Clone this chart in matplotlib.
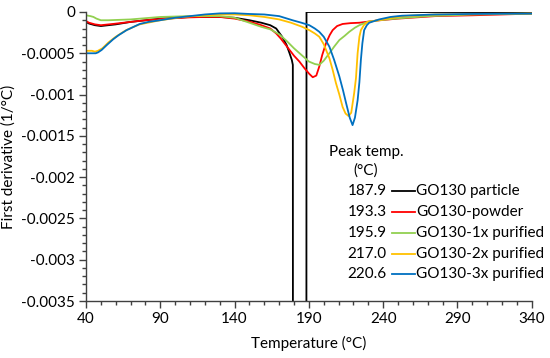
import matplotlib
matplotlib.use('Agg')
import matplotlib.pyplot as plt
from matplotlib.ticker import MultipleLocator

plt.rcParams['font.family'] = ['Lato', 'DejaVu Sans']
plt.rcParams['axes.unicode_minus'] = False

# Temperature (°C) and first derivative (1/°C)
temp_particle = [40, 42, 46, 50, 60, 70, 80, 90, 100, 110, 120, 130, 140, 150, 158, 164, 168,
                 172, 175, 177, 178.5, 179.2, 179.3, 188.3, 188.4, 200, 340]
deriv_particle = [-0.00012, -0.00014, -0.00016, -0.00017, -0.00015, -0.00012, -0.0001, -0.00008,
                  -0.00007, -0.00006, -0.00006, -0.00006, -0.00007, -0.0001, -0.00013, -0.00016,
                  -0.0002, -0.0003, -0.0004, -0.0005, -0.00058, -0.00064, -0.006, -0.006, 0, 0, 0]

temp_powder = [40, 42, 46, 50, 58, 70, 80, 90, 100, 110, 120, 130, 140, 150, 158, 164, 168, 171,
               174, 177, 180, 183.6, 187, 190.3, 192.6, 195, 197, 199, 201.5, 204, 206, 209,
               212.7, 218, 224, 235, 250, 275, 300, 340]
deriv_powder = [-0.00011, -0.00013, -0.00015, -0.00016, -0.000145, -0.00012, -0.0001, -0.000085,
                -0.000075, -0.000065, -0.00006, -0.00006, -0.00008, -0.000117, -0.00016, -0.0002,
                -0.00026, -0.00032, -0.00039, -0.00046, -0.00053, -0.0006, -0.00068, -0.00075,
                -0.00079, -0.00077, -0.00066, -0.00052, -0.00038, -0.00028, -0.00022, -0.00017,
                -0.000145, -0.000135, -0.00013, -0.000105, -0.00008, -0.00005, -0.00004, -0.00002]

temp_1x = [40, 43, 45, 47, 50, 55, 70, 90, 110, 130, 140, 150, 158, 164, 170, 175, 180, 185,
           190, 194, 197, 200, 203.8, 207, 210.5, 214, 217.2, 221, 224, 229.5, 237, 250, 270,
           300, 340]
deriv_1x = [-0.00004, -0.00005, -0.00006, -0.00008, -0.0001, -0.0001, -0.00009, -0.00006,
            -0.00005, -0.00005, -0.00007, -0.00013, -0.00018, -0.00021, -0.00027, -0.00035,
            -0.00044, -0.00052, -0.0006, -0.00063, -0.00064, -0.00059, -0.0005, -0.00042,
            -0.00034, -0.00029, -0.00024, -0.00019, -0.00016, -0.00012, -0.0001, -0.000077,
            -0.00005, -0.00003, -0.00002]

temp_2x = [40, 44, 46, 48, 51, 55, 60, 67, 76, 90, 105, 120, 130, 140, 150, 160, 170, 178,
           185.6, 190.3, 194, 197, 200, 203.8, 206, 208.2, 210.5, 212.7, 214.7, 216.7, 218.5,
           220.5, 221.7, 222.8, 224, 225, 227, 229.5, 237, 253, 275, 298, 340]
deriv_2x = [-0.00047, -0.00047, -0.00048, -0.00047, -0.00044, -0.00037, -0.0003, -0.00022,
            -0.00015, -0.0001, -0.00006, -0.00004, -0.00003, -0.00003, -0.00004, -0.00006,
            -0.00009, -0.00013, -0.00018, -0.00022, -0.00026, -0.0003, -0.00039, -0.00056,
            -0.0007, -0.00086, -0.001, -0.00115, -0.00123, -0.00126, -0.00122, -0.00098,
            -0.0008, -0.0005, -0.0003, -0.00022, -0.00016, -0.00012, -0.0001, -0.00005,
            -0.00003, -0.000025, -0.00002]

temp_3x = [40, 44, 46.5, 48, 50.5, 54, 58.3, 62, 67.3, 72, 76.2, 82, 89.7, 100, 110, 120, 130,
           140, 150, 160, 170, 179, 185, 190.3, 194, 197, 200, 203.8, 207, 210.5, 213, 215,
           217.5, 219.4, 221, 222.8, 224, 225, 226, 227.2, 229, 230.6, 237.3, 245, 252.7, 275,
           297.7, 340]
deriv_3x = [-0.0005, -0.0005, -0.0005, -0.00049, -0.00046, -0.0004, -0.00033, -0.00028,
            -0.00022, -0.00018, -0.000145, -0.00012, -0.0001, -0.00007, -0.00005, -0.00003,
            -0.000017, -0.000015, -0.000024, -0.00003, -0.00005, -0.0001, -0.00013, -0.00016,
            -0.0002, -0.00024, -0.0003, -0.00042, -0.00058, -0.00078, -0.00095, -0.0011,
            -0.00128, -0.00137, -0.00128, -0.00107, -0.00085, -0.00058, -0.00038, -0.00022,
            -0.00016, -0.00013, -0.00009, -0.00006, -0.000045, -0.00003, -0.000024, -0.00002]

names = ['GO130 particle', 'GO130-powder', 'GO130-1x purified', 'GO130-2x purified', 'GO130-3x purified']
peak_temps = ['187.9', '193.3', '195.9', '217.0', '220.6']
colors = ['#000000', '#FF0000', '#92D050', '#FFC000', '#0070C0']
series = [(temp_particle, deriv_particle), (temp_powder, deriv_powder), (temp_1x, deriv_1x),
          (temp_2x, deriv_2x), (temp_3x, deriv_3x)]

x_ticks = [40, 90, 140, 190, 240, 290, 340]
y_ticks = [0, -0.0005, -0.001, -0.0015, -0.002, -0.0025, -0.003, -0.0035]
y_tick_labels = ['0', '-0.0005', '-0.001', '-0.0015', '-0.002', '-0.0025', '-0.003', '-0.0035']

fig = plt.figure(figsize=(5.5, 3.58), dpi=100)
ax = fig.add_axes([0.1564, 0.1592, 0.8104, 0.8073])

for (t, d), c in zip(series, colors):
    ax.plot(t, d, color=c, lw=1.3, solid_joinstyle='round')

ax.set_xlim(40, 340)
ax.set_ylim(-0.0035, 0)
ax.set_xticks(x_ticks)
ax.xaxis.set_minor_locator(MultipleLocator(10))
ax.set_yticks(y_ticks)
ax.set_yticklabels(y_tick_labels)
ax.yaxis.set_minor_locator(MultipleLocator(0.0001))

for s in ['top', 'right']:
    ax.spines[s].set_visible(False)
for s in ['left', 'bottom']:
    ax.spines[s].set_color('#404040')
    ax.spines[s].set_linewidth(1.0)
ax.tick_params(which='major', length=5, width=1.0, color='#404040', labelsize=11, pad=3)
ax.tick_params(which='minor', length=3, width=1.0, color='#404040')

ax.set_xlabel('Temperature (°C)', fontsize=11, labelpad=7)
ax.set_ylabel('First derivative (1/°C)', fontsize=11, labelpad=4)

# legend block: peak temperature, sample line, sample name
ax.text(0.628, 0.517, 'Peak temp.', transform=ax.transAxes, ha='center', va='center', fontsize=11)
ax.text(0.628, 0.451, '(°C)', transform=ax.transAxes, ha='center', va='center', fontsize=11)
row_y = [0.381, 0.308, 0.235, 0.163, 0.093]
for name, pk, c, yy in zip(names, peak_temps, colors, row_y):
    ax.text(0.675, yy, pk, transform=ax.transAxes, ha='right', va='center', fontsize=11)
    ax.plot([0.687, 0.738], [yy, yy], transform=ax.transAxes, color=c, lw=1.3)
    ax.text(0.741, yy, name, transform=ax.transAxes, ha='left', va='center', fontsize=11)

fig.savefig('out.png', dpi=100)
